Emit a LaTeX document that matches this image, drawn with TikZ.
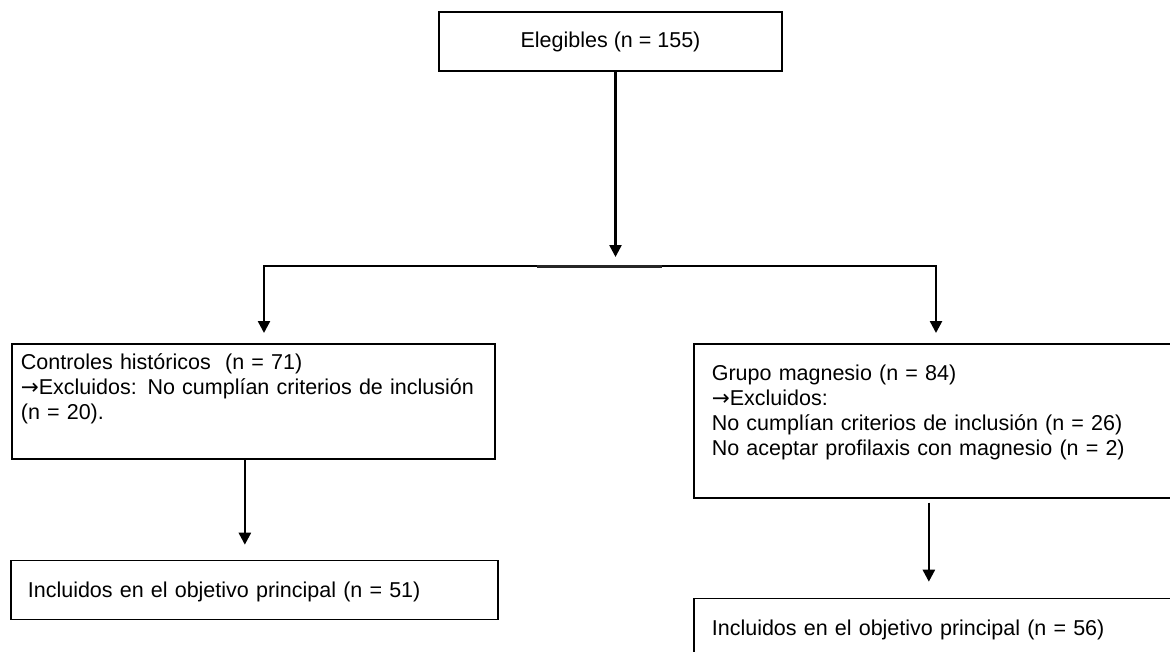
\documentclass[tikz,border=0pt]{standalone}
\usepackage{fontspec}
\setmainfont{Liberation Sans}
\newfontfamily\arrowfont{DejaVu Sans}
\usetikzlibrary{positioning}
\usetikzlibrary{arrows.meta}

\newcommand{\excl}{{\arrowfont →}}

\tikzset{
   flowbox/.style={draw, line width=1.7pt, align=left, inner ysep=0pt,
      font=\fontsize{21.5}{24.8}\selectfont},
   flowarrow/.style={line width=2.5pt, -{Triangle[length=12pt,width=12pt]}},
   splitline/.style={line width=2pt, line cap=rect}
}

\begin{document}
\begin{tikzpicture}[x=1pt,y=-1pt]
      \useasboundingbox (0,0) rectangle (1170,651);
      \clip (0,0) rectangle (1170,651);

      % eligible patients
      \node[flowbox, align=center, minimum width=343pt, minimum height=59pt,
         inner sep=0pt] (el0) at (610.5,41.5) {Elegibles (n = 155)};

      % split line
      \coordinate (s0) at (264,266);
      \coordinate (s1) at (936,266);
      \coordinate (s2) at (537,266.5);
      \coordinate (s3) at (662,266.5);

      % historical controls
      \node[flowbox, anchor=north west, inner xsep=9pt, text width=465pt,
         text height=26pt, text depth=89pt] (ctrl0) at (11,343)
         {Controles históricos~ (n = 71)\\
          \excl Excluidos: No cumplían criterios de inclusión\\
          (n = 20).};
      \node[flowbox, below right=100pt and -1pt of ctrl0.south west,
         inner xsep=17pt, text width=453pt, text height=37pt,
         text depth=22pt] (ctrl1)
         {Incluidos en el objetivo principal (n = 51)};

      % magnesium group
      \node[flowbox, anchor=north west, inner xsep=18pt, text width=451pt,
         text height=37pt, text depth=117pt] (mg0) at (693,343)
         {Grupo magnesio (n = 84)\\
          \excl Excluidos:\\
          No cumplían criterios de inclusión (n = 26)\\
          No aceptar profilaxis con magnesio (n = 2)};
      \node[flowbox, below right=99pt and 0pt of mg0.south west,
         inner xsep=18pt, text width=451pt, text height=37pt,
         text depth=30pt] (mg1)
         {Incluidos en el objetivo principal (n = 56)};

      \draw[splitline] (s0) -- (s1);
      \draw[line width=2.6pt, black!85] (s2) -- (s3);

      \draw[flowarrow, shorten >=9pt] ([xshift=5pt]el0.south) --
         ([xshift=5pt]el0.south |- s0);
      \draw[flowarrow, shorten >=10pt] (s0) -- (s0 |- ctrl0.north);
      \draw[flowarrow, shorten >=10pt] (s1) -- (s1 |- mg0.north);
      \draw[flowarrow, shorten >=15pt] ([xshift=-8.5pt]ctrl0.south) --
         ([xshift=-8.5pt]ctrl0.south |- ctrl1.north);
      \draw[flowarrow, shorten <=4pt, shorten >=16pt]
         ([xshift=-8.5pt]mg0.south) --
         ([xshift=-8.5pt]mg0.south |- mg1.north);
\end{tikzpicture}
\end{document}
